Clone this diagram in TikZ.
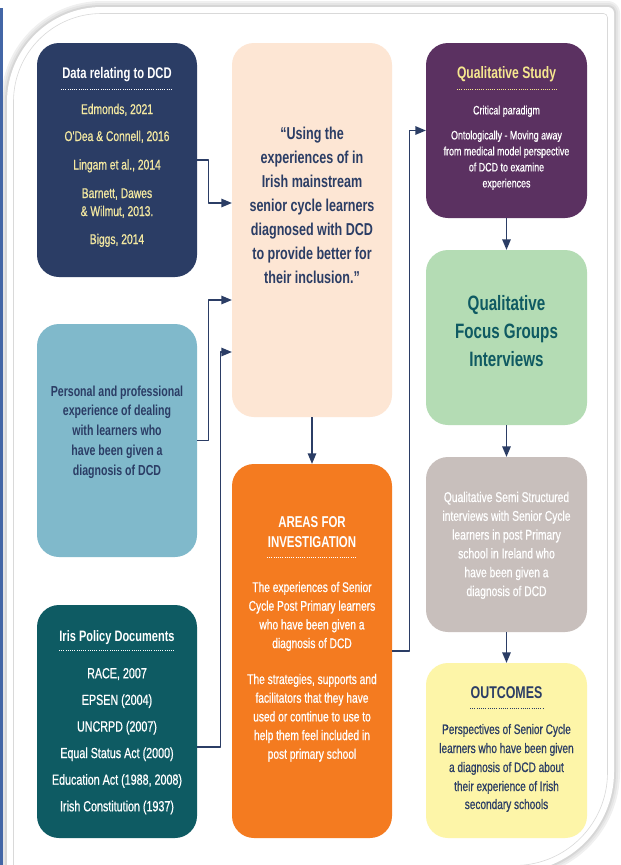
\documentclass[tikz,border=0pt]{standalone}
\usepackage{fontspec}
\setmainfont{Liberation Sans}[FakeStretch=0.73]
\newfontfamily\mediumfont{Liberation Sans}[FakeStretch=0.73,FakeBold=0.7]
\usepackage{tikz}
\usetikzlibrary{arrows}
\definecolor{navyblue}{HTML}{2B3D65}
\definecolor{refyellow}{HTML}{F4E9A1}
\definecolor{peach}{HTML}{FDE6D4}
\definecolor{plum}{HTML}{5B3161}
\definecolor{studyyellow}{HTML}{F6E78F}
\definecolor{sage}{HTML}{B4DCB4}
\definecolor{focusteal}{HTML}{0F5A62}
\definecolor{taupe}{HTML}{C8BFBC}
\definecolor{paleyellow}{HTML}{FDF5A8}
\definecolor{skyblue}{HTML}{80B9CB}
\definecolor{areasorange}{HTML}{F47B20}
\definecolor{darkteal}{HTML}{0E5B63}
\definecolor{leftbar}{HTML}{4366A6}
\begin{document}
\begin{tikzpicture}[line cap=round,line join=round,>=triangle 45,x=1pt,y=-1pt,
  box/.style={rounded corners=22pt,inner sep=0pt,minimum width=160pt},
  txt/.style={anchor=base,inner sep=0pt},
  link/.style={->,draw=navyblue,line width=1.4pt,line cap=butt},
  dots/.style={line width=1pt,line cap=butt,dash pattern=on 0.9pt off 1.3pt}]
\useasboundingbox (0,0) rectangle (621,865);
\clip (0,0) rectangle (621,865);
% card with its shadow
\foreach \w/\c in {12/6,8/10,4/16}
  \draw[line width=\w pt,black!\c] (7,872) -- (7,102) .. controls (7,49.5) and (49.5,7) .. (102,7) -- (608,7) .. controls (611.3,7) and (614,9.7) .. (614,13) -- (614,772) .. controls (614,827.2) and (569.2,872) .. (514,872) -- cycle;
\fill[white] (7,872) -- (7,102) .. controls (7,49.5) and (49.5,7) .. (102,7) -- (608,7) .. controls (611.3,7) and (614,9.7) .. (614,13) -- (614,772) .. controls (614,827.2) and (569.2,872) .. (514,872) -- cycle;
\draw[line width=0.6pt,black!15] (13.5,870) -- (13.5,101.5) .. controls (13.5,52.9) and (52.9,13.5) .. (101.5,13.5) -- (603.5,13.5) .. controls (605.7,13.5) and (607.5,15.3) .. (607.5,17.5) -- (607.5,772.5) .. controls (607.5,823.9) and (565.9,865.5) .. (514.5,865.5);
\fill[leftbar] (0,8) rectangle (2.6,866);
% boxes
\node[box,fill=navyblue,minimum height=234pt] (dcd) at (117,160) {};
\node[box,fill=peach,minimum height=374pt] (aim) at (312,230) {};
\node[box,fill=plum,minimum width=161pt,minimum height=175pt] (study) at (506.5,130.5) {};
\node[box,fill=sage,minimum width=161pt,minimum height=175pt] (focus) at (506.5,337.5) {};
\node[box,fill=taupe,minimum width=161pt,minimum height=175pt] (semi) at (506.5,544.5) {};
\node[box,fill=paleyellow,minimum width=161pt,minimum height=175pt] (outcomes) at (506.5,750.5) {};
\node[box,fill=skyblue,minimum height=233pt] (personal) at (117,440.5) {};
\node[box,fill=areasorange,minimum height=374pt] (areas) at (312,651) {};
\node[box,fill=darkteal,minimum height=233pt] (policy) at (117,721.5) {};
% data relating to DCD
\node[txt,font=\bfseries\fontsize{15.4}{18}\selectfont,text=white] (dcdtitle) at (117,78) {Data relating to DCD};
\draw[dots,white] (61,89) -- (173,89);
\foreach \t/\y [count=\i] in {{Edmonds, 2021}/114,{O'Dea \& Connell, 2016}/141,{Lingam et al., 2014}/169.5,{Barnett, Dawes}/198,{\& Wilmut, 2013.}/216,{Biggs, 2014}/244}
  \node[txt,font=\mediumfont\fontsize{14.1}{16}\selectfont,text=refyellow] (dcdref\i) at (117,\y) {\t};
% aim of the study
\foreach \t/\y [count=\i] in {{“Using the}/139,{experiences of in}/163,{Irish mainstream}/187,{senior cycle learners}/211,{diagnosed with DCD}/235,{to provide better for}/259,{their inclusion.”}/283}
  \node[txt,font=\bfseries\fontsize{17.2}{20}\selectfont,text=navyblue] (aim\i) at (312,\y) {\t};
% qualitative study
\node[txt,font=\bfseries\fontsize{16.6}{18}\selectfont,text=studyyellow] (studytitle) at (506.5,78.5) {Qualitative Study};
\draw[dots,studyyellow] (457,89) -- (557,89);
\foreach \t/\y [count=\i] in {{Critical paradigm}/114.4,{Ontologically - Moving away}/139.4,{from medical model perspective}/155.4,{of DCD to examine}/171.4,{experiences}/187.4}
  \node[txt,font=\mediumfont\fontsize{12.2}{14}\selectfont,text=white] (study\i) at (506.5,\y) {\t};
% focus groups
\foreach \t/\y [count=\i] in {Qualitative/310,{Focus Groups}/338,Interviews/366}
  \node[txt,font=\bfseries\fontsize{20.8}{24}\selectfont,text=focusteal] (focus\i) at (506.5,\y) {\t};
% semi structured interviews
\foreach \t/\y [count=\i] in {{Qualitative Semi Structured}/502,{interviews with Senior Cycle}/520.8,{learners in post Primary}/539.6,{school in Ireland who}/558.4,{have been given a}/577.2,{diagnosis of DCD}/596}
  \node[txt,font=\mediumfont\fontsize{14.1}{16}\selectfont,text=white] (semi\i) at (506.5,\y) {\t};
% outcomes
\node[txt,font=\bfseries\fontsize{17}{19}\selectfont,text=navyblue] (outtitle) at (506.5,698) {OUTCOMES};
\draw[dots,navyblue] (470,708) -- (543,708);
\foreach \t/\y [count=\i] in {{Perspectives of Senior Cycle}/734,{learners who have been given}/753,{a diagnosis of DCD about}/772,{their experience of Irish}/791,{secondary schools}/809}
  \node[txt,font=\mediumfont\fontsize{13.8}{16}\selectfont,text=navyblue] (out\i) at (506.5,\y) {\t};
% personal experience
\foreach \t/\y [count=\i] in {{Personal and professional}/396,{experience of dealing}/415.8,{with learners who}/435.6,{have been given a}/455.4,{diagnosis of DCD}/475.2}
  \node[txt,font=\bfseries\fontsize{14.5}{16}\selectfont,text=navyblue] (personal\i) at (117,\y) {\t};
% areas for investigation
\node[txt,font=\bfseries\fontsize{15.7}{18}\selectfont,text=white] (areastitle1) at (312,527.6) {AREAS FOR};
\node[txt,font=\bfseries\fontsize{15.7}{18}\selectfont,text=white] (areastitle2) at (312,547.6) {INVESTIGATION};
\draw[dots,white] (267,557.7) -- (356,557.7);
\foreach \t/\y [count=\i] in {{The experiences of Senior}/592,{Cycle Post Primary learners}/610.7,{who have been given a}/629.4,{diagnosis of DCD}/648.1,{The strategies, supports and}/684,{facilitators that they have}/702.7,{used or continue to use to}/721.4,{help them feel included in}/740.1,{post primary school}/758.8}
  \node[txt,font=\mediumfont\fontsize{14}{16}\selectfont,text=white] (areas\i) at (312,\y) {\t};
% policy documents
\node[txt,font=\bfseries\fontsize{15.1}{18}\selectfont,text=white] (policytitle) at (117,641) {Iris Policy Documents};
\draw[dots,white] (59,650) -- (174,650);
\foreach \t/\y [count=\i] in {{RACE, 2007}/678.3,{EPSEN (2004)}/704.9,{UNCRPD (2007)}/731.5,{Equal Status Act (2000)}/758.1,{Education Act (1988, 2008)}/784.7,{Irish Constitution (1937)}/811.3}
  \node[txt,font=\mediumfont\fontsize{14.7}{16}\selectfont,text=white] (policy\i) at (117,\y) {\t};
% connectors
\draw[link] (dcd.east) -- ++(11,0) |- ([yshift=27pt]aim.west);
\draw[link] (personal.east) -- ++(11,0) |- ([yshift=-70pt]aim.west);
\draw[link] ([yshift=-25.5pt]policy.east) -- ++(23,0) |- ([yshift=-122pt]aim.west);
\draw[link] (aim.south) -- (areas.north);
\draw[link] (areas.east) -- ++(17,0) |- (study.west);
\draw[link] (study.south) -- (focus.north);
\draw[link] (focus.south) -- (semi.north);
\draw[link] (semi.south) -- (outcomes.north);
\end{tikzpicture}
\end{document}
